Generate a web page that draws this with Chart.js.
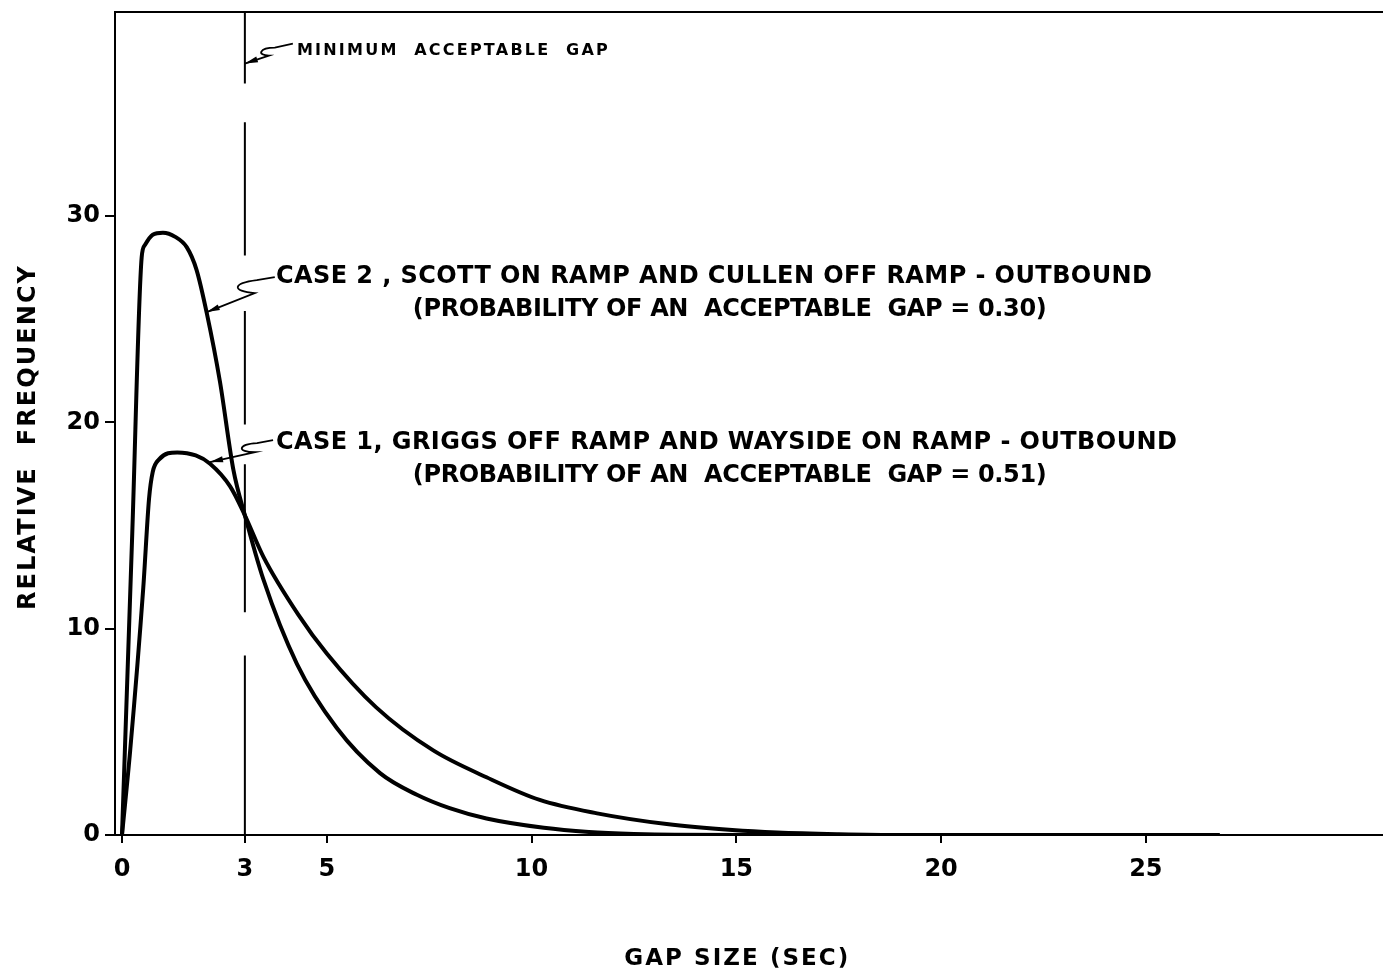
<!DOCTYPE html>
<html>
<head>
<meta charset="utf-8">
<title>Gap size distribution</title>
<script src="https://cdn.jsdelivr.net/npm/chart.js@4.4.1/dist/chart.umd.min.js"></script>
<style>
  html, body { margin: 0; padding: 0; background: #fff; }
  canvas { display: block; }
</style>
</head>
<body>
<canvas id="chart" width="1383" height="969"></canvas>
<script>
// values
const case2Gap  = [0, 0.25, 0.48, 0.56, 0.75, 1.0, 1.3, 1.58, 1.82, 2.07, 2.39, 2.72, 3.0, 3.45, 4.27, 5.24, 6.3, 7.2, 8.0, 8.9, 10.3, 11.4, 12.5, 13.5, 16, 20, 26.8];
const case2Freq = [0, 14.6, 28.0, 28.6, 29.1, 29.2, 29.0, 28.5, 27.4, 25.3, 22.0, 17.7, 15.5, 12.4, 8.3, 5.2, 3.0, 1.95, 1.3, 0.8, 0.35, 0.15, 0.05, 0.01, 0, 0, 0];

const case1Gap  = [0, 0.2, 0.52, 0.66, 0.75, 0.9, 1.35, 1.8, 2.15, 2.64, 3.0, 3.45, 4.3, 5.0, 6.2, 7.6, 8.9, 10.2, 11.6, 13.3, 14.9, 16.0, 17.5, 19, 26.8];
const case1Freq = [0, 4.1, 12.0, 16.3, 17.6, 18.2, 18.55, 18.4, 18.0, 16.9, 15.5, 13.5, 10.7, 8.8, 6.2, 4.1, 2.8, 1.7, 1.05, 0.53, 0.24, 0.12, 0.04, 0, 0];

const minAcceptableGap = 3;
// broken vertical line at the minimum acceptable gap (null = gap in line)
const minGapLevels = [39.9, 36.43, null, 34.55, 28.1, null, 25.4, 19.9, null, 17.97, 10.8, null, 8.7, 0];

const xTicks = [0, 3, 5, 10, 15, 20, 25];
const yTicks = [0, 10, 20, 30];

const FONT = '"DejaVu Sans", sans-serif';

function toPoints(xs, ys) {
  return xs.map((x, i) => ({ x: x, y: ys[i] }));
}

function fitText(ctx, text, x0, x1, yMid, size) {
  ctx.font = "bold " + size + "px " + FONT;
  ctx.letterSpacing = "0px";
  const w = ctx.measureText(text).width;
  const sp = (x1 - x0 - w) / (text.length - 1);
  ctx.letterSpacing = sp + "px";
  ctx.textAlign = "left";
  ctx.textBaseline = "alphabetic";
  ctx.fillText(text, x0, yMid + size * 0.364);
  ctx.letterSpacing = "0px";
}

// leader line with a little "S" kink and an arrow head at the tip
function drawLeader(ctx, tx, ty, pts) {
  const p = pts.map(([dx, dy]) => [tx + dx, ty + dy]);
  ctx.save();
  ctx.strokeStyle = "#000";
  ctx.fillStyle = "#000";
  ctx.lineWidth = 1.8;
  ctx.beginPath();
  ctx.moveTo(p[0][0], p[0][1]);
  ctx.lineTo(p[1][0], p[1][1]);
  ctx.bezierCurveTo(p[2][0] - 6, p[2][1] - 4, p[2][0] - 8, p[2][1] + 4, p[3][0], p[3][1]);
  ctx.lineTo(tx, ty);
  ctx.stroke();
  const ang = Math.atan2(ty - p[3][1], tx - p[3][0]);
  ctx.translate(tx, ty);
  ctx.rotate(ang);
  ctx.beginPath();
  ctx.moveTo(0, 0);
  ctx.lineTo(-13, -3);
  ctx.lineTo(-13, 3);
  ctx.closePath();
  ctx.fill();
  ctx.restore();
}

const annotations = {
  id: "annotations",
  afterDraw(chart) {
    const { ctx, chartArea, scales } = chart;
    const xs = scales.x, ys = scales.y;
    ctx.save();
    ctx.fillStyle = "#000";
    ctx.strokeStyle = "#000";

    // top of the frame
    ctx.lineWidth = 2;
    ctx.beginPath();
    ctx.moveTo(chartArea.left, chartArea.top);
    ctx.lineTo(chartArea.right, chartArea.top);
    ctx.stroke();

    const labels = [
      ["MINIMUM  ACCEPTABLE  GAP", 4.27, 11.86, 38.1, 16],
      ["CASE 2 , SCOTT ON RAMP AND CULLEN OFF RAMP - OUTBOUND", 3.76, 25.15, 27.19, 24],
      ["(PROBABILITY OF AN  ACCEPTABLE  GAP = 0.30)", 7.1, 22.58, 25.59, 24],
      ["CASE 1, GRIGGS OFF RAMP AND WAYSIDE ON RAMP - OUTBOUND", 3.76, 25.76, 19.15, 24],
      ["(PROBABILITY OF AN  ACCEPTABLE  GAP = 0.51)", 7.1, 22.58, 17.55, 24]
    ];
    labels.forEach(([t, a, b, y, s]) => {
      fitText(ctx, t, xs.getPixelForValue(a), xs.getPixelForValue(b), ys.getPixelForValue(y), s);
    });

    drawLeader(ctx, xs.getPixelForValue(3), ys.getPixelForValue(37.4),
      [[48, -20], [30, -16], [20, -12], [24, -8]]);
    drawLeader(ctx, xs.getPixelForValue(2.07), ys.getPixelForValue(25.35),
      [[68, -35], [50, -32], [32, -25], [48, -19]]);
    drawLeader(ctx, xs.getPixelForValue(2.15), ys.getPixelForValue(18.08),
      [[63, -22], [47, -19], [34, -14], [45, -10]]);

    // axis titles
    const cx = xs.getPixelForValue(15);
    fitText(ctx, "GAP SIZE (SEC)", cx - 112, cx + 112, 957, 23);

    ctx.translate(26, 438);
    ctx.rotate(-Math.PI / 2);
    fitText(ctx, "RELATIVE  FREQUENCY", -172, 172, 0, 24);
    ctx.restore();
  }
};

const tickFont = { family: FONT, size: 24, weight: "bold" };

new Chart(document.getElementById("chart"), {
  type: "line",
  data: {
    datasets: [
      {
        label: "Case 2",
        data: toPoints(case2Gap, case2Freq),
        borderColor: "#000",
        borderWidth: 4,
        pointRadius: 0,
        cubicInterpolationMode: "monotone",
        fill: false
      },
      {
        label: "Case 1",
        data: toPoints(case1Gap, case1Freq),
        borderColor: "#000",
        borderWidth: 4,
        pointRadius: 0,
        cubicInterpolationMode: "monotone",
        fill: false
      },
      {
        label: "Minimum acceptable gap",
        data: minGapLevels.map((v) => ({ x: minAcceptableGap, y: v })),
        borderColor: "#000",
        borderWidth: 2,
        pointRadius: 0,
        spanGaps: false,
        fill: false
      }
    ]
  },
  options: {
    responsive: false,
    animation: false,
    devicePixelRatio: 1,
    layout: { padding: { top: 12, right: 0, left: 0, bottom: 0 } },
    plugins: {
      legend: { display: false },
      tooltip: { enabled: false }
    },
    scales: {
      x: {
        type: "linear",
        min: -0.171,
        max: 30.79,
        afterBuildTicks: (s) => { s.ticks = xTicks.map((v) => ({ value: v })); },
        afterFit: (s) => { s.height = 134; s.paddingLeft = 0; s.paddingRight = 0; },
        grid: { drawOnChartArea: false, drawTicks: true, tickLength: 8, color: "#000", lineWidth: 2 },
        border: { color: "#000", width: 2 },
        ticks: { color: "#000", font: tickFont, padding: 12, maxRotation: 0, autoSkip: false }
      },
      y: {
        type: "linear",
        min: 0,
        max: 39.9,
        afterBuildTicks: (s) => { s.ticks = yTicks.map((v) => ({ value: v })); },
        afterFit: (s) => { s.width = 115; s.paddingTop = 0; s.paddingBottom = 0; },
        grid: { drawOnChartArea: false, drawTicks: true, tickLength: 10, color: "#000", lineWidth: 2 },
        border: { color: "#000", width: 2 },
        ticks: { color: "#000", font: tickFont, padding: 5, autoSkip: false }
      }
    }
  },
  plugins: [annotations]
});
</script>
</body>
</html>
